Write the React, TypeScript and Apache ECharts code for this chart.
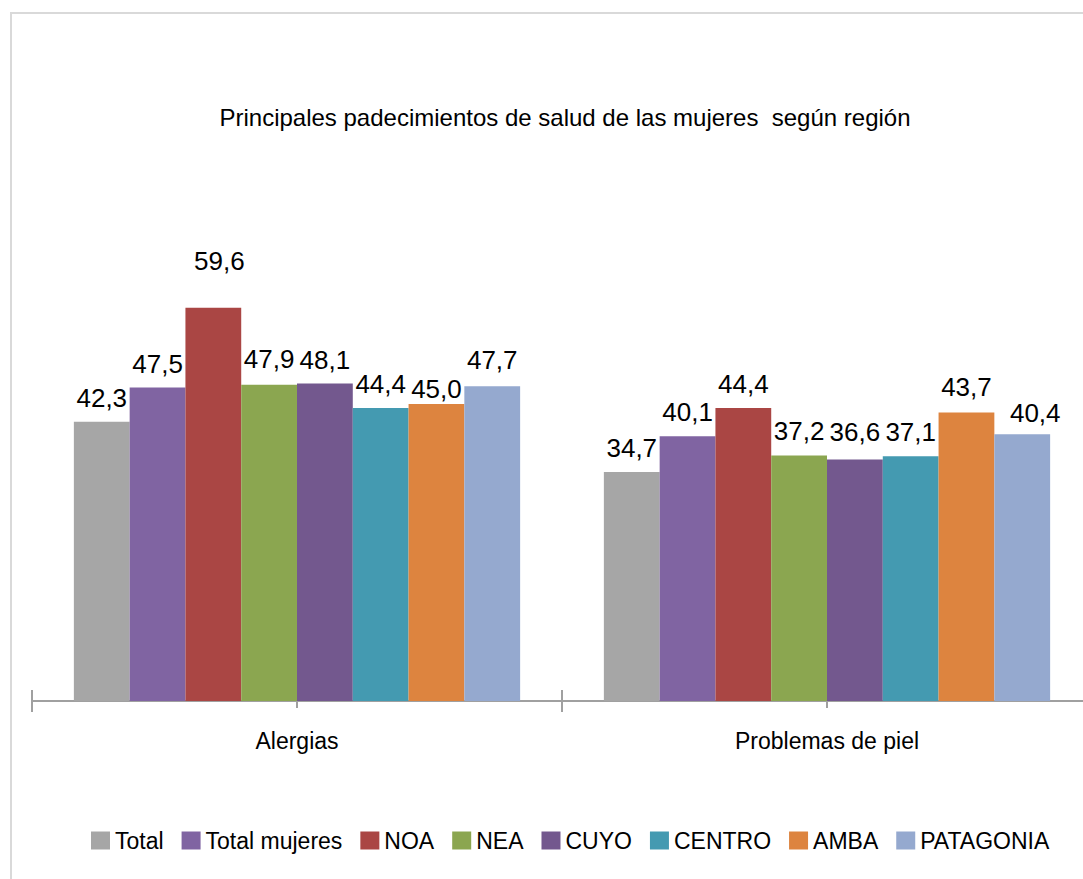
import React, { useEffect, useRef } from "react";
import * as echarts from "echarts";

const categories = ["Alergias", "Problemas de piel"];
const seriesNames = ["Total", "Total mujeres", "NOA", "NEA", "CUYO", "CENTRO", "AMBA", "PATAGONIA"];
const totalValues = [42.3, 34.7];
const totalMujeresValues = [47.5, 40.1];
const noaValues = [59.6, 44.4];
const neaValues = [47.9, 37.2];
const cuyoValues = [48.1, 36.6];
const centroValues = [44.4, 37.1];
const ambaValues = [45.0, 43.7];
const patagoniaValues = [47.7, 40.4];
const titleText = "Principales padecimientos de salud de las mujeres  según región";

const seriesValues = [
  totalValues,
  totalMujeresValues,
  noaValues,
  neaValues,
  cuyoValues,
  centroValues,
  ambaValues,
  patagoniaValues,
];

const colors = ["#a6a6a6", "#8064a2", "#aa4644", "#8ba650", "#73588e", "#449ab1", "#dd843f", "#95a9cf"];

// manual label nudges (series index -> category index -> [dx, dy])
const labelNudges: Record<number, Record<number, [number, number]>> = {
  2: { 0: [6, -23] },
  3: { 0: [0, -2] },
  4: { 1: [0, -3] },
  6: { 0: [0, 9], 1: [0, -2] },
  7: { 0: [0, -2], 1: [13, 3] },
};

const FONT = "'Liberation Sans', Arial, sans-serif";
const AXIS_COLOR = "#a0a0a0";

export default function App() {
  const ref = useRef<HTMLDivElement>(null);

  useEffect(() => {
    if (!ref.current) return;
    const chart = echarts.init(ref.current, undefined, { renderer: "svg" });

    const series = seriesNames.map((name, si) => ({
      name,
      type: "bar",
      xAxisIndex: 0,
      yAxisIndex: 0,
      barGap: "0%",
      barCategoryGap: "15.8%",
      itemStyle: { color: colors[si] },
      label: {
        show: true,
        position: "top",
        distance: 11,
        color: "#000",
        fontFamily: FONT,
        fontSize: 26,
        formatter: (p: any) => Number(p.value).toFixed(1).replace(".", ","),
      },
      data: seriesValues[si].map((v, ci) => {
        const nudge = labelNudges[si] && labelNudges[si][ci];
        return nudge ? { value: v, label: { offset: nudge } } : { value: v };
      }),
    }));

    const baseAxis = {
      type: "category",
      data: categories,
      gridIndex: 0,
      position: "bottom",
      offset: 0,
    };

    chart.setOption({
      animation: false,
      backgroundColor: "#ffffff",
      color: colors,
      title: {
        text: titleText,
        left: 560,
        top: 100,
        textAlign: "center",
        textStyle: {
          fontFamily: FONT,
          fontSize: 24,
          fontWeight: "normal",
          color: "#000",
        },
      },
      legend: {
        left: 91,
        top: 829,
        padding: 0,
        itemWidth: 19,
        itemHeight: 18,
        itemGap: 18,
        icon: "rect",
        textStyle: {
          fontFamily: FONT,
          fontSize: 23,
          color: "#000",
        },
        data: seriesNames,
      },
      grid: {
        left: 32,
        width: 1060,
        top: 239,
        height: 462,
        containLabel: false,
        outerBoundsMode: "none",
      },
      graphic: [
        {
          type: "rect",
          shape: { x: 11, y: 13, width: 1100, height: 900 },
          style: { fill: "none", stroke: "#d9d9d9", lineWidth: 2 },
          silent: true,
        },
      ],
      xAxis: [
        {
          ...baseAxis,
          axisLine: { show: true, lineStyle: { color: AXIS_COLOR, width: 2 } },
          axisTick: { show: true, length: 11, lineStyle: { color: AXIS_COLOR, width: 2 } },
          axisLabel: {
            show: true,
            margin: 28,
            color: "#000",
            fontFamily: FONT,
            fontSize: 23,
          },
        },
        {
          ...baseAxis,
          axisLine: { show: false },
          axisTick: { show: true, inside: true, length: 11, lineStyle: { color: AXIS_COLOR, width: 2 } },
          axisLabel: { show: false },
        },
        {
          ...baseAxis,
          axisLine: { show: false },
          axisTick: { show: true, alignWithLabel: true, length: 7, lineStyle: { color: AXIS_COLOR, width: 2 } },
          axisLabel: { show: false },
        },
      ],
      yAxis: {
        type: "value",
        min: 0,
        max: 70,
        show: false,
        splitLine: { show: false },
      },
      series,
    });

    return () => chart.dispose();
  }, []);

  return (
    <div
      ref={ref}
      style={{ position: "absolute", left: 0, top: 0, width: 1083, height: 879 }}
    />
  );
}
